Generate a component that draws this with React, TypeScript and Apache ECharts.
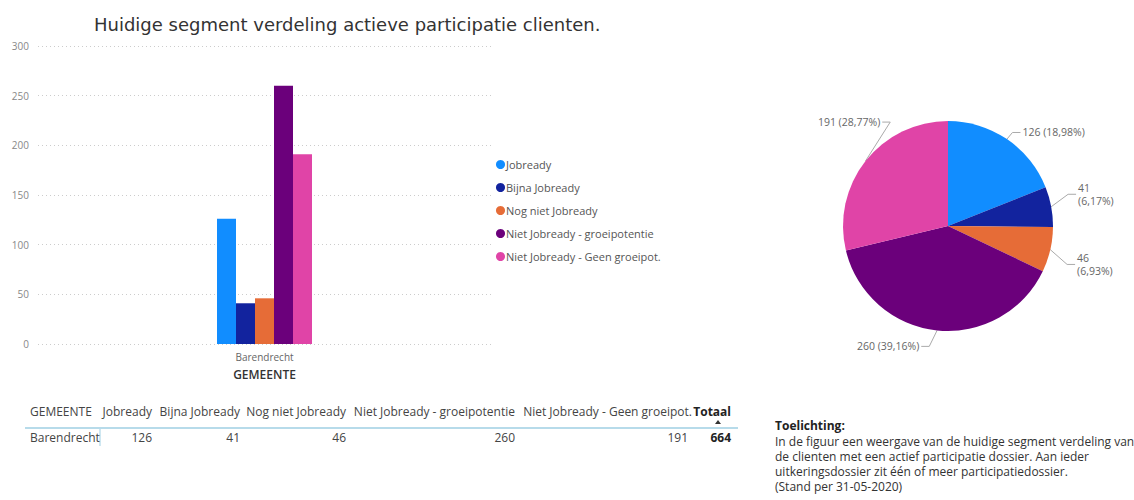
import React, { useEffect, useRef } from "react";
import * as echarts from "echarts";

const categories = ["Barendrecht"];
const seriesNames = [
  "Jobready",
  "Bijna Jobready",
  "Nog niet Jobready",
  "Niet Jobready - groeipotentie",
  "Niet Jobready - Geen groeipot.",
];
const seriesValues = [126, 41, 46, 260, 191];
const colors = ["#118DFF", "#12239E", "#E66C37", "#6B007B", "#E044A7"];
const yTicks = [0, 50, 100, 150, 200, 250, 300];
const title = "Huidige segment verdeling actieve participatie clienten.";
const xAxisTitle = "GEMEENTE";
const tableHeaderFirst = "GEMEENTE";
const tableTotalLabel = "Totaal";
const noteTitle = "Toelichting:";
const noteLines = [
  "In de figuur een weergave van de huidige segment verdeling van",
  "de clienten met een actief participatie dossier. Aan ieder",
  "uitkeringsdossier zit één of meer participatiedossier.",
  "(Stand per 31-05-2020)",
];

const FONT = "'Open Sans', 'Noto Sans', sans-serif";
const labelShift = [
  { dx: -8, dy: 0 },
  { dx: 0, dy: -11 },
  { dx: 0, dy: 13 },
  { dx: 2, dy: 8 },
  { dx: 40, dy: -34 },
];

export default function App() {
  const ref = useRef<HTMLDivElement>(null);
  useEffect(() => {
    if (!ref.current) return;
    const chart = echarts.init(ref.current, undefined, { renderer: "svg" });
    const total = seriesValues.reduce((a, b) => a + b, 0);

    const colRight = [152, 240, 346, 515, 692, 731];
    const headerY = 411;
    const rowY = 437;
    const tableEls: any[] = [];
    tableEls.push({
      type: "text", x: 30, y: headerY,
      style: { text: tableHeaderFirst, font: `12px ${FONT}`, fill: "#444", align: "left", verticalAlign: "middle" },
    });
    seriesNames.forEach((n, i) => {
      tableEls.push({
        type: "text", x: colRight[i], y: headerY,
        style: { text: n, font: `12px ${FONT}`, fill: "#444", align: "right", verticalAlign: "middle" },
      });
    });
    tableEls.push({
      type: "text", x: colRight[5], y: headerY,
      style: { text: tableTotalLabel, font: `bold 12px ${FONT}`, fill: "#222", align: "right", verticalAlign: "middle" },
    });
    tableEls.push({
      type: "polygon",
      shape: { points: [[715, 424], [721, 424], [718, 420]] },
      style: { fill: "#333" },
    });
    tableEls.push({
      type: "line",
      shape: { x1: 25, y1: 428, x2: 738, y2: 428 },
      style: { stroke: "#9fcfe3", lineWidth: 1.5 },
    });
    tableEls.push({
      type: "line",
      shape: { x1: 100, y1: 429, x2: 100, y2: 446 },
      style: { stroke: "#9fcfe3", lineWidth: 1 },
    });
    tableEls.push({
      type: "text", x: 30, y: rowY,
      style: { text: categories[0], font: `12px ${FONT}`, fill: "#444", align: "left", verticalAlign: "middle" },
    });
    seriesValues.forEach((v, i) => {
      tableEls.push({
        type: "text", x: colRight[i] - (i === 4 ? 4 : 0), y: rowY,
        style: { text: String(v), font: `12px ${FONT}`, fill: "#444", align: "right", verticalAlign: "middle" },
      });
    });
    tableEls.push({
      type: "text", x: colRight[5], y: rowY,
      style: { text: String(total), font: `bold 12px ${FONT}`, fill: "#222", align: "right", verticalAlign: "middle" },
    });

    const noteEls: any[] = [
      {
        type: "text", x: 775, y: 425,
        style: { text: noteTitle, font: `bold 12px ${FONT}`, fill: "#222", align: "left", verticalAlign: "middle" },
      },
      ...noteLines.map((t, i) => ({
        type: "text", x: 775, y: 441 + i * 15.3,
        style: { text: t, font: `12px ${FONT}`, fill: "#333", align: "left", verticalAlign: "middle" },
      })),
    ];

    chart.setOption({
      animation: false,
      backgroundColor: "#fff",
      title: {
        text: title,
        left: 89,
        top: 10,
        textStyle: { fontFamily: "'DejaVu Sans', sans-serif", fontSize: 18, fontWeight: "normal", color: "#333" },
      },
      legend: {
        orient: "vertical",
        left: 491,
        top: 154,
        itemGap: 12,
        itemWidth: 9,
        itemHeight: 9,
        icon: "circle",
        data: seriesNames,
        textStyle: { fontFamily: FONT, fontSize: 11, color: "#555", padding: [0, 0, 0, -4] },
      },
      grid: { left: 38, right: 643, top: 46, bottom: 156, containLabel: false },
      xAxis: {
        type: "category",
        data: categories,
        name: xAxisTitle,
        nameLocation: "middle",
        nameGap: 24,
        nameTextStyle: { fontFamily: FONT, fontSize: 12, color: "#333", fontWeight: 600 },
        axisLine: { show: false },
        axisTick: { show: false },
        axisLabel: { fontFamily: FONT, fontSize: 10, color: "#666", margin: 8 },
      },
      yAxis: {
        type: "value",
        min: yTicks[0],
        max: yTicks[yTicks.length - 1],
        interval: 50,
        axisLabel: { fontFamily: FONT, fontSize: 10, color: "#888", margin: 9, align: "right" },
        splitLine: { lineStyle: { type: [1, 3], color: "#cccccc" } },
        axisLine: { show: false },
        axisTick: { show: false },
      },
      series: [
        ...seriesNames.map((n, i) => ({
          type: "bar",
          name: n,
          data: [seriesValues[i]],
          barWidth: 19,
          barGap: "0%",
          itemStyle: { color: colors[i] },
        })),
        {
          type: "pie",
          center: [948, 226],
          radius: 105,
          startAngle: 90,
          clockwise: true,
          data: seriesNames.map((n, i) => ({ name: n, value: seriesValues[i], itemStyle: { color: colors[i] } })),
          label: {
            fontFamily: FONT,
            fontSize: 10.5,
            color: "#666",
            lineHeight: 13,
            formatter: (p: any) => {
              const pct = ((p.value / total) * 100).toFixed(2).replace(".", ",");
              return p.value < 100 ? `${p.value}\n(${pct}%)` : `${p.value} (${pct}%)`;
            },
          },
          labelLine: { length: 8, length2: 14, lineStyle: { color: "#aaa" } },
          labelLayout: (params: any) => {
            const s = labelShift[params.dataIndex] || { dx: 0, dy: 0 };
            const r = params.labelRect;
            const pts = params.labelLinePoints;
            if (!pts || !r) return { dx: s.dx, dy: s.dy };
            const right = pts[2][0] >= pts[0][0];
            const cy = r.y + r.height / 2 + s.dy;
            const ex = right ? r.x + s.dx - 2 : r.x + r.width + s.dx + 2;
            const mx = right ? ex - 8 : ex + 8;
            return {
              dx: s.dx,
              dy: s.dy,
              labelLinePoints: [[pts[0][0], pts[0][1]], [mx, cy], [ex, cy]],
            };
          },
          emphasis: { disabled: true },
        },
      ],
      graphic: [...tableEls, ...noteEls],
    });
    return () => chart.dispose();
  }, []);
  return (
    <div
      ref={ref}
      style={{ position: "fixed", left: 0, top: 0, width: 1134, height: 500, background: "#fff" }}
    />
  );
}
